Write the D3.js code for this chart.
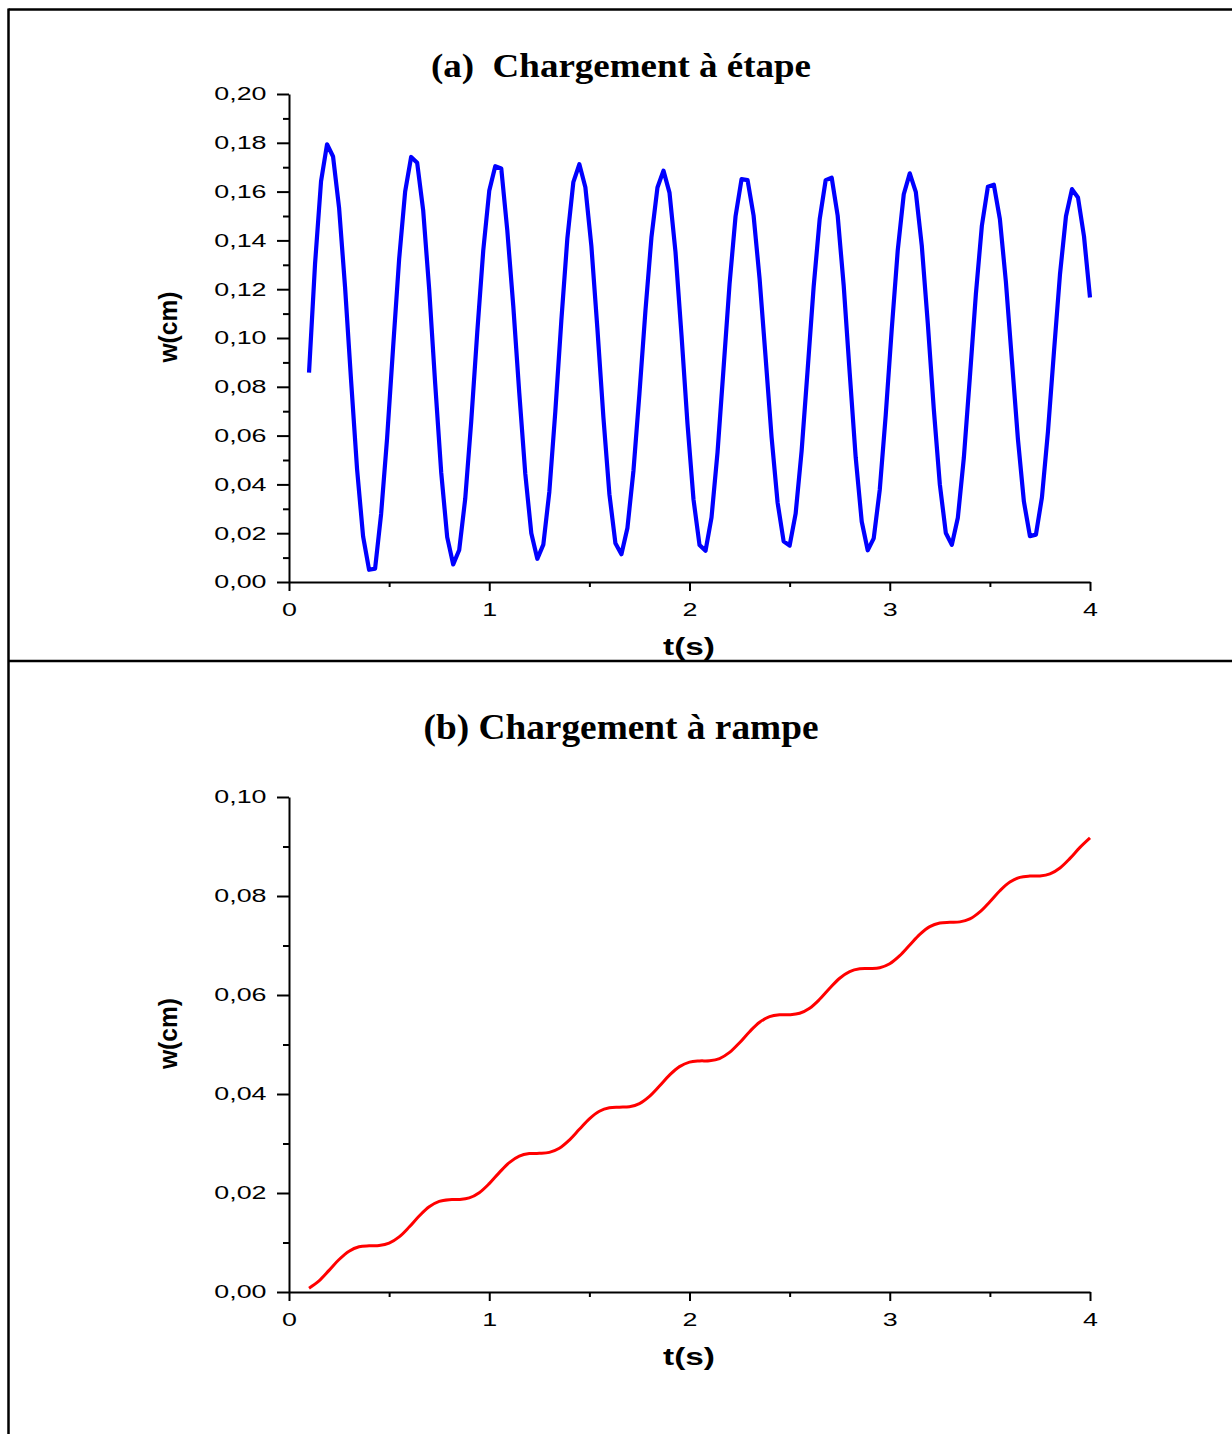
<!DOCTYPE html>
<html>
<head>
<meta charset="utf-8">
<script src="https://cdn.jsdelivr.net/npm/d3@7"></script>
<style>
  body { margin: 0; background: #fff; }
  svg { display: block; }
</style>
</head>
<body>
<div id="chart"></div>
<script>
// deflection w(cm) vs t(s), step load (a) and ramp load (b)

var titleA = "(a)  Chargement à étape"
var titleB = "(b) Chargement à rampe"
var xLabel = "t(s)"
var yLabel = "w(cm)"

// (a) step load
var tStep = [0.10, 0.13, 0.16, 0.19, 0.22, 0.25, 0.28, 0.31, 0.34, 0.37,
    0.40, 0.43, 0.46, 0.49, 0.52, 0.55, 0.58, 0.61, 0.64, 0.67,
    0.70, 0.73, 0.76, 0.79, 0.82, 0.85, 0.88, 0.91, 0.94, 0.97,
    1.00, 1.03, 1.06, 1.09, 1.12, 1.15, 1.18, 1.21, 1.24, 1.27,
    1.30, 1.33, 1.36, 1.39, 1.42, 1.45, 1.48, 1.51, 1.54, 1.57,
    1.60, 1.63, 1.66, 1.69, 1.72, 1.75, 1.78, 1.81, 1.84, 1.87,
    1.90, 1.93, 1.96, 1.99, 2.02, 2.05, 2.08, 2.11, 2.14, 2.17,
    2.20, 2.23, 2.26, 2.29, 2.32, 2.35, 2.38, 2.41, 2.44, 2.47,
    2.50, 2.53, 2.56, 2.59, 2.62, 2.65, 2.68, 2.71, 2.74, 2.77,
    2.80, 2.83, 2.86, 2.89, 2.92, 2.95, 2.98, 3.01, 3.04, 3.07,
    3.10, 3.13, 3.16, 3.19, 3.22, 3.25, 3.28, 3.31, 3.34, 3.37,
    3.40, 3.43, 3.46, 3.49, 3.52, 3.55, 3.58, 3.61, 3.64, 3.67,
    3.70, 3.73, 3.76, 3.79, 3.82, 3.85, 3.88, 3.91, 3.94, 3.97,
    4.00]
var wStep = [0.0858, 0.1303, 0.1642, 0.1794, 0.1744, 0.1534, 0.1208, 0.0826, 0.0462, 0.0187,
    0.0050, 0.0055, 0.0279, 0.0591, 0.0963, 0.1323, 0.1600, 0.1742, 0.1718, 0.1524,
    0.1200, 0.0813, 0.0450, 0.0184, 0.0072, 0.0131, 0.0341, 0.0658, 0.1022, 0.1358,
    0.1603, 0.1704, 0.1695, 0.1442, 0.1131, 0.0774, 0.0443, 0.0200, 0.0095, 0.0153,
    0.0369, 0.0699, 0.1071, 0.1408, 0.1639, 0.1712, 0.1618, 0.1377, 0.1039, 0.0676,
    0.0360, 0.0159, 0.0114, 0.0221, 0.0455, 0.0772, 0.1112, 0.1413, 0.1617, 0.1686,
    0.1596, 0.1353, 0.1013, 0.0648, 0.0338, 0.0152, 0.0128, 0.0265, 0.0532, 0.0875,
    0.1221, 0.1499, 0.1651, 0.1647, 0.1502, 0.1243, 0.0921, 0.0593, 0.0325, 0.0167,
    0.0149, 0.0280, 0.0538, 0.0870, 0.1210, 0.1486, 0.1647, 0.1657, 0.1501, 0.1215,
    0.0857, 0.0510, 0.0248, 0.0130, 0.0179, 0.0377, 0.0685, 0.1036, 0.1360, 0.1589,
    0.1675, 0.1599, 0.1378, 0.1060, 0.0708, 0.0401, 0.0201, 0.0152, 0.0263, 0.0509,
    0.0838, 0.1179, 0.1460, 0.1620, 0.1628, 0.1487, 0.1230, 0.0908, 0.0586, 0.0329,
    0.0188, 0.0194, 0.0347, 0.0616, 0.0943, 0.1260, 0.1499, 0.1610, 0.1576, 0.1417,
    0.1166]

// (b) ramp load
var tRamp = [0.10, 0.15, 0.20, 0.25, 0.30, 0.35, 0.40, 0.45, 0.50, 0.55,
    0.60, 0.65, 0.70, 0.75, 0.80, 0.85, 0.90, 0.95, 1.00, 1.05,
    1.10, 1.15, 1.20, 1.25, 1.30, 1.35, 1.40, 1.45, 1.50, 1.55,
    1.60, 1.65, 1.70, 1.75, 1.80, 1.85, 1.90, 1.95, 2.00, 2.05,
    2.10, 2.15, 2.20, 2.25, 2.30, 2.35, 2.40, 2.45, 2.50, 2.55,
    2.60, 2.65, 2.70, 2.75, 2.80, 2.85, 2.90, 2.95, 3.00, 3.05,
    3.10, 3.15, 3.20, 3.25, 3.30, 3.35, 3.40, 3.45, 3.50, 3.55,
    3.60, 3.65, 3.70, 3.75, 3.80, 3.85, 3.90, 3.95, 4.00]
var wRamp = [0.00078, 0.00226, 0.00437, 0.00656, 0.00825, 0.00913, 0.00933, 0.00938, 0.00986, 0.01113,
    0.01312, 0.01535, 0.01722, 0.01831, 0.01866, 0.01868, 0.01900, 0.02006, 0.02189, 0.02412,
    0.02613, 0.02744, 0.02796, 0.02801, 0.02820, 0.02903, 0.03069, 0.03286, 0.03499, 0.03652,
    0.03722, 0.03734, 0.03744, 0.03807, 0.03952, 0.04161, 0.04381, 0.04553, 0.04645, 0.04668,
    0.04672, 0.04716, 0.04840, 0.05036, 0.05259, 0.05449, 0.05562, 0.05600, 0.05602, 0.05632,
    0.05733, 0.05913, 0.06135, 0.06339, 0.06474, 0.06529, 0.06535, 0.06552, 0.06632, 0.06794,
    0.07010, 0.07224, 0.07381, 0.07455, 0.07469, 0.07477, 0.07537, 0.07678, 0.07885, 0.08106,
    0.08281, 0.08377, 0.08402, 0.08405, 0.08447, 0.08567, 0.08760, 0.08983, 0.09175]

// ticks
var xTicks = [0, 1, 2, 3, 4]
var xMinor = [0.5, 1.5, 2.5, 3.5]
var yTicksStep = [0, 0.02, 0.04, 0.06, 0.08, 0.10, 0.12, 0.14, 0.16, 0.18, 0.20]
var yMinorStep = [0.01, 0.03, 0.05, 0.07, 0.09, 0.11, 0.13, 0.15, 0.17, 0.19]
var yTicksRamp = [0, 0.02, 0.04, 0.06, 0.08, 0.10]
var yMinorRamp = [0.01, 0.03, 0.05, 0.07, 0.09]

var width = 1232
var height = 1434
var stretch = 1.45 // the original figure is a bit wider than tall

var svg = d3.select("#chart")
    .append("svg")
    .attr("width", width)
    .attr("height", height);

svg.append("rect").attr("width", width).attr("height", height).attr("fill", "#fff");

// frame of the table
var frame = svg.append("g").attr("stroke", "#000").attr("stroke-width", 2.5);
frame.append("line").attr("x1", 8.5).attr("x2", width).attr("y1", 9.5).attr("y2", 9.5);
frame.append("line").attr("x1", 8.5).attr("x2", width).attr("y1", 661).attr("y2", 661);
frame.append("line").attr("x1", 8.5).attr("x2", 8.5).attr("y1", 8.5).attr("y2", height);

var fmt = d => d3.format(".2f")(d).replace(".", ",")

function widen(sel, k) {
    sel.each(function () {
        var w = this.getComputedTextLength();
        d3.select(this).attr("textLength", w * k).attr("lengthAdjust", "spacingAndGlyphs");
    });
}

function panel(opt) {
    var x = d3.scaleLinear().domain([0, 4]).range([289, 1090]);
    var y = d3.scaleLinear().domain(opt.yDomain).range([opt.bottom, opt.top]);
    var g = svg.append("g");

    // title
    g.append("text")
        .attr("x", 621)
        .attr("y", opt.titleY)
        .attr("text-anchor", "middle")
        .attr("font-family", "'Liberation Serif', 'Times New Roman', serif")
        .attr("font-weight", "bold")
        .attr("font-size", opt.titleSize)
        .attr("textLength", opt.titleLen)
        .attr("lengthAdjust", "spacingAndGlyphs")
        .style("white-space", "pre")
        .text(opt.title);

    // x axis
    g.append("g")
        .attr("transform", `translate(0,${opt.bottom})`)
        .call(d3.axisBottom(x).tickValues(xTicks).tickFormat(d3.format("d"))
            .tickSize(9).tickSizeOuter(0).tickPadding(12));
    g.append("g")
        .attr("transform", `translate(0,${opt.bottom})`)
        .call(d3.axisBottom(x).tickValues(xMinor).tickFormat("").tickSize(5).tickSizeOuter(0))
        .call(g => g.select(".domain").remove());

    // y axis
    g.append("g")
        .attr("transform", "translate(289,0)")
        .call(d3.axisLeft(y).tickValues(opt.yTicks).tickFormat(fmt)
            .tickSize(12).tickSizeOuter(0).tickPadding(10.5));
    g.append("g")
        .attr("transform", "translate(289,0)")
        .call(d3.axisLeft(y).tickValues(opt.yMinor).tickFormat("").tickSize(6).tickSizeOuter(0))
        .call(g => g.select(".domain").remove());

    g.selectAll(".domain, .tick line").attr("stroke", "#000").attr("stroke-width", 2);
    g.selectAll(".tick text")
        .attr("fill", "#000")
        .attr("font-family", "'Liberation Sans', Arial, sans-serif")
        .attr("font-size", 18.5)
        .call(widen, stretch);

    // axis titles
    g.append("text")
        .attr("x", 689)
        .attr("y", opt.bottom + 73)
        .attr("text-anchor", "middle")
        .attr("font-family", "'Liberation Sans', Arial, sans-serif")
        .attr("font-weight", "bold")
        .attr("font-size", 24)
        .attr("textLength", 52)
        .attr("lengthAdjust", "spacingAndGlyphs")
        .text(xLabel);

    g.append("text")
        .attr("transform", `translate(177,${(opt.top + opt.bottom) / 2 - 11}) rotate(-90) scale(1,1.1)`)
        .attr("text-anchor", "middle")
        .attr("font-family", "'Liberation Sans', Arial, sans-serif")
        .attr("font-weight", "bold")
        .attr("font-size", 24)
        .attr("textLength", 71)
        .attr("lengthAdjust", "spacingAndGlyphs")
        .text(yLabel);

    // the curve
    var line = d3.line()
        .x(i => x(opt.t[i]))
        .y(i => y(opt.w[i]))
        .curve(opt.curve);

    g.append("path")
        .attr("fill", "none")
        .attr("stroke", opt.color)
        .attr("stroke-width", opt.lineWidth)
        .attr("stroke-linejoin", "round")
        .attr("d", line(d3.range(opt.t.length)));
}

panel({
    title: titleA, titleY: 77, titleSize: 33, titleLen: 380,
    top: 94, bottom: 582, yDomain: [0, 0.2],
    yTicks: yTicksStep, yMinor: yMinorStep,
    t: tStep, w: wStep, color: "#0000ff", lineWidth: 4.2, curve: d3.curveLinear
});

panel({
    title: titleB, titleY: 739, titleSize: 35, titleLen: 395,
    top: 797, bottom: 1292, yDomain: [0, 0.1],
    yTicks: yTicksRamp, yMinor: yMinorRamp,
    t: tRamp, w: wRamp, color: "#ff0000", lineWidth: 3, curve: d3.curveCatmullRom.alpha(0.5)
});
</script>
</body>
</html>
